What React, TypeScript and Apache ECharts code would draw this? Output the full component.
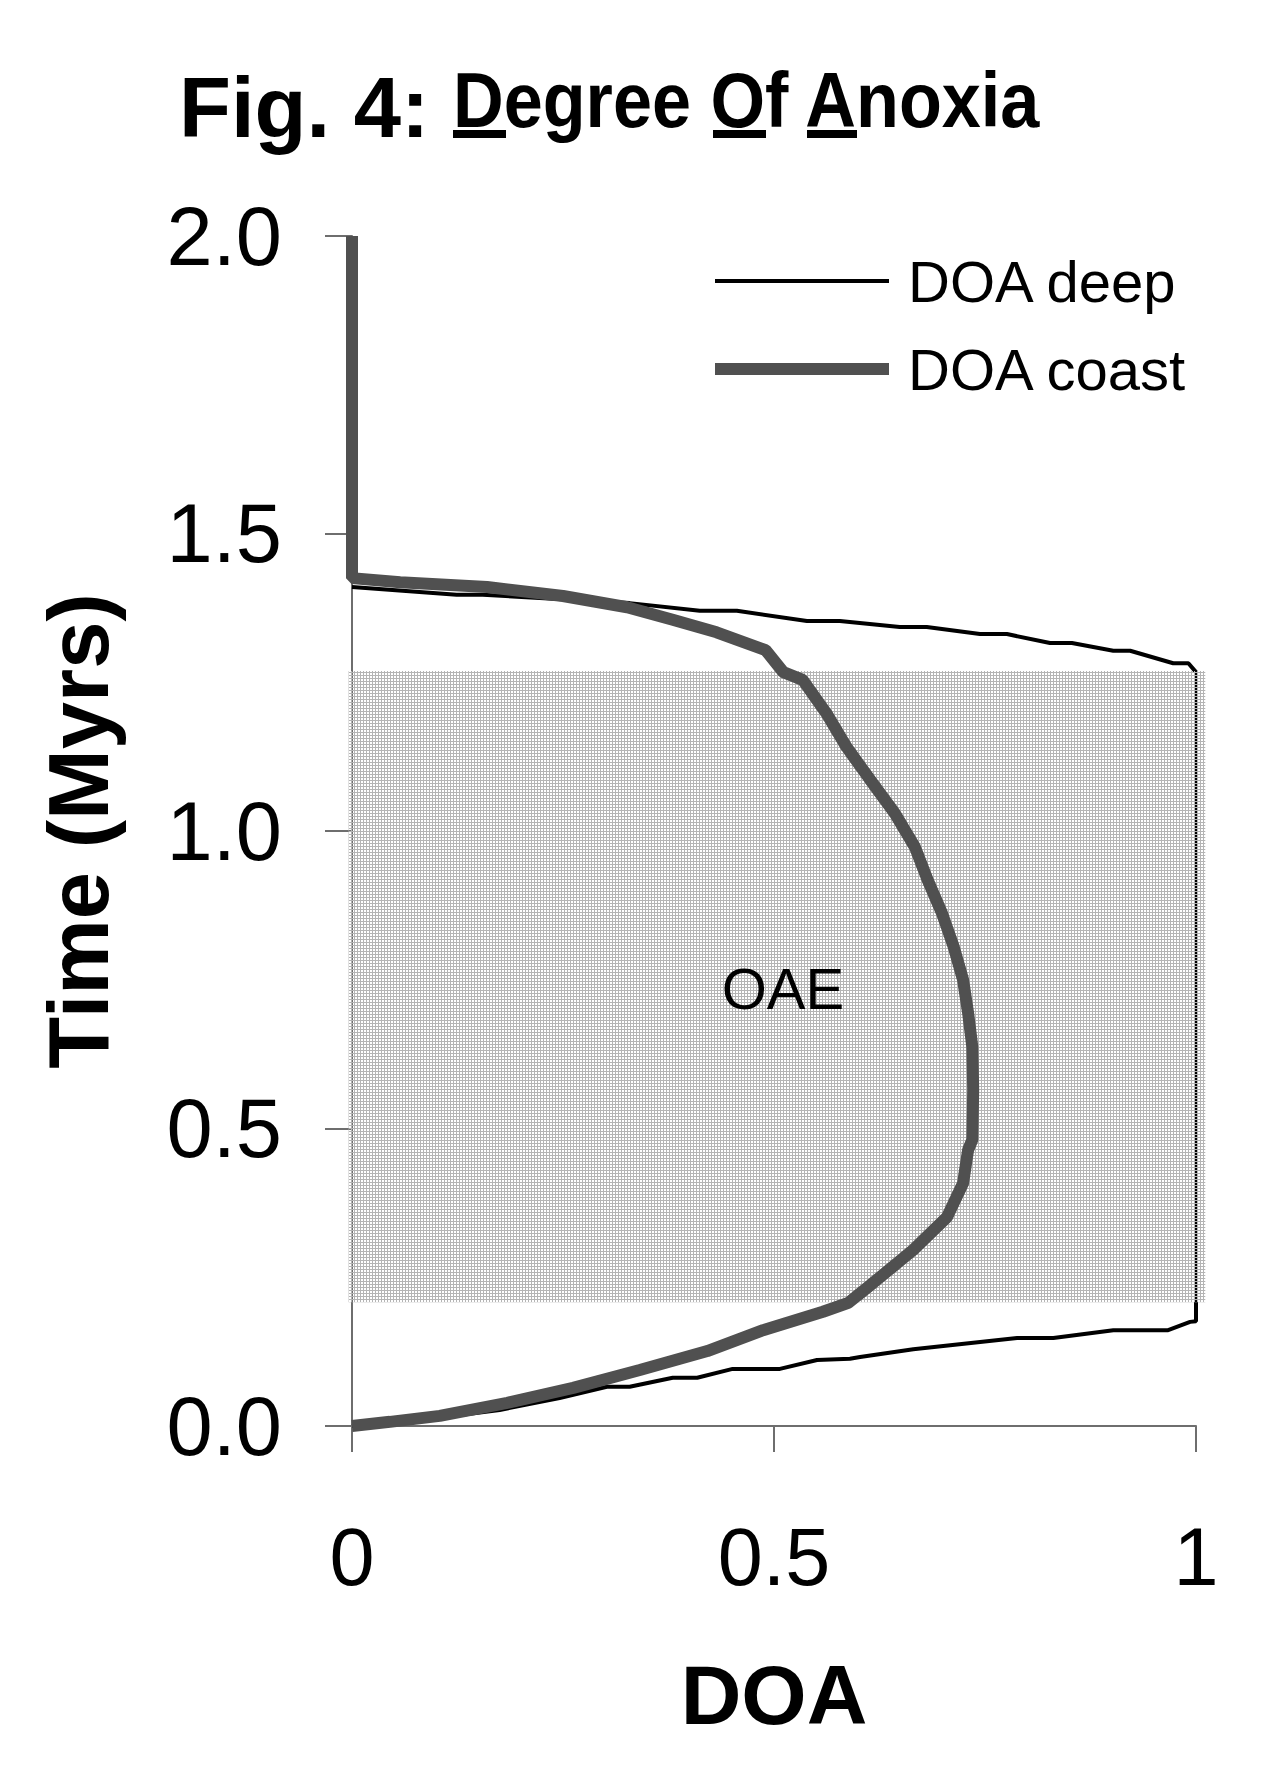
import React, { useEffect, useRef } from "react";
import * as echarts from "echarts";

// ---- data ----
const xTickValues = [0, 0.5, 1];
const yTickValues = [0, 0.5, 1.0, 1.5, 2.0];

// DOA deep (time ordered)
const deepDOA = [
  0, 0.081, 0.175, 0.246, 0.302, 0.329, 0.38, 0.409, 0.451, 0.507, 0.551, 0.59, 0.602, 0.665, 0.788,
  0.831, 0.902, 0.967, 0.993, 1.0, 1.0, 0.991, 0.973, 0.922, 0.902, 0.853, 0.827, 0.776, 0.744, 0.681,
  0.649, 0.578, 0.539, 0.456, 0.412, 0.329, 0.155, 0.124, 0,
];
const deepTime = [
  0, 0.01, 0.027, 0.047, 0.066, 0.066, 0.081, 0.081, 0.096, 0.096, 0.111, 0.113, 0.116, 0.129, 0.148,
  0.148, 0.161, 0.161, 0.175, 0.176, 1.267, 1.282, 1.282, 1.303, 1.303, 1.316, 1.316, 1.331, 1.331, 1.343,
  1.343, 1.353, 1.353, 1.37, 1.37, 1.383, 1.397, 1.397, 1.41,
];

// DOA coast (time ordered)
const coastDOA = [
  0, 0.045, 0.104, 0.184, 0.262, 0.341, 0.421, 0.487, 0.558, 0.588, 0.617, 0.665, 0.705, 0.724, 0.73,
  0.735, 0.736, 0.735, 0.73, 0.724, 0.713, 0.699, 0.682, 0.667, 0.643, 0.614, 0.586, 0.562, 0.534, 0.511,
  0.49, 0.432, 0.38, 0.326, 0.25, 0.16, 0.057, 0, 0,
];
const coastTime = [
  0, 0.007, 0.017, 0.039, 0.064, 0.094, 0.126, 0.161, 0.192, 0.207, 0.24, 0.296, 0.351, 0.408, 0.464,
  0.481, 0.565, 0.637, 0.694, 0.75, 0.805, 0.862, 0.918, 0.973, 1.03, 1.086, 1.141, 1.198, 1.254, 1.267,
  1.304, 1.334, 1.355, 1.376, 1.395, 1.41, 1.418, 1.425, 2.0,
];

// OAE shaded interval
const oaeDOA = [-0.004, 1.011];
const oaeTime = [0.208, 1.269];

const FONT = "'Liberation Sans', Arial, Helvetica, sans-serif";

// legend icons: full 174x14 box, with a bar of the series' thickness in the middle
const DEEP_ICON = "path://M0,0L0,0M0,5L174,5L174,9L0,9ZM174,14L174,14";
const COAST_ICON = "path://M0,0L0,0M0,1L174,1L174,13L0,13ZM174,14L174,14";

export default function App() {
  const ref = useRef<HTMLDivElement>(null);

  useEffect(() => {
    if (!ref.current) return;
    const chart = echarts.init(ref.current, undefined, { renderer: "svg" });

    // fine grid texture for the OAE box (transparent gaps)
    const cv = document.createElement("canvas");
    cv.width = 3;
    cv.height = 3;
    const ctx = cv.getContext("2d")!;
    ctx.fillStyle = "#b4b4b4";
    ctx.fillRect(0, 0, 3, 1);
    ctx.fillRect(0, 0, 1, 3);
    const pattern = { image: cv, repeat: "repeat" };

    const axisLineStyle = { color: "#6e6e6e", width: 2 };
    const coastColor = "#505050";

    chart.setOption({
      animation: false,
      backgroundColor: "#ffffff",
      grid: { left: 352, right: 77, top: 236, bottom: 362, containLabel: false },
      legend: {
        data: [
          { name: "DOA deep", icon: DEEP_ICON, itemStyle: { color: "#000" } },
          { name: "DOA coast", icon: COAST_ICON, itemStyle: { color: coastColor } },
        ],
        orient: "vertical",
        left: 710,
        top: 247,
        itemWidth: 174,
        itemHeight: 14,
        itemGap: 30,
        textStyle: {
          fontSize: 58,
          fontFamily: FONT,
          color: "#000",
          lineHeight: 56,
          padding: [0, 0, 0, 14],
        },
      },
      xAxis: {
        type: "value",
        min: xTickValues[0],
        max: xTickValues[xTickValues.length - 1],
        interval: 0.5,
        splitLine: { show: false },
        axisLine: { show: true, onZero: false, lineStyle: axisLineStyle },
        axisTick: { show: true, inside: false, length: 26, lineStyle: axisLineStyle },
        axisLabel: {
          fontSize: 81,
          fontFamily: FONT,
          color: "#000",
          margin: 90,
          formatter: (v: number) => String(v),
        },
        name: "DOA",
        nameLocation: "middle",
        nameGap: 227,
        nameTextStyle: { fontSize: 84, fontWeight: "bold", fontFamily: FONT, color: "#000" },
      },
      yAxis: {
        type: "value",
        min: yTickValues[0],
        max: yTickValues[yTickValues.length - 1],
        interval: 0.5,
        splitLine: { show: false },
        axisLine: { show: true, onZero: false, lineStyle: axisLineStyle },
        axisTick: { show: true, inside: false, length: 27, lineStyle: axisLineStyle },
        axisLabel: {
          fontSize: 83,
          fontFamily: FONT,
          color: "#000",
          margin: 70,
          formatter: (v: number) => v.toFixed(1),
        },
        name: "Time (Myrs)",
        nameLocation: "middle",
        nameRotate: 90,
        nameGap: 231,
        nameTextStyle: { fontSize: 85, fontWeight: "bold", fontFamily: FONT, color: "#000" },
      },
      graphic: [
        {
          type: "text",
          x: 179,
          y: 107,
          style: { text: "Fig. 4:", font: `bold 85px ${FONT}`, fill: "#000", verticalAlign: "middle" },
        },
        {
          type: "text",
          x: 453,
          y: 100,
          scaleX: 0.9,
          style: {
            text: "Degree Of Anoxia",
            font: `bold 78px ${FONT}`,
            fill: "#000",
            verticalAlign: "middle",
          },
        },
        { type: "rect", shape: { x: 453, y: 130, width: 53, height: 8 }, style: { fill: "#000" } },
        { type: "rect", shape: { x: 713, y: 130, width: 53, height: 8 }, style: { fill: "#000" } },
        { type: "rect", shape: { x: 807, y: 130, width: 50, height: 8 }, style: { fill: "#000" } },
      ],
      series: [
        {
          name: "DOA deep",
          type: "line",
          z: 2,
          symbol: "none",
          lineStyle: { color: "#000", width: 4 },
          itemStyle: { color: "#000" },
          data: deepDOA.map((x, i) => [x, deepTime[i]]),
        },
        {
          name: "OAE",
          type: "custom",
          z: 3,
          silent: true,
          clip: false,
          data: [[oaeDOA[0], oaeTime[1], oaeDOA[1], oaeTime[0]]],
          renderItem: (params: any, api: any) => {
            const p0 = api.coord([api.value(0), api.value(1)]);
            const p1 = api.coord([api.value(2), api.value(3)]);
            return {
              type: "rect",
              shape: { x: p0[0], y: p0[1], width: p1[0] - p0[0], height: p1[1] - p0[1] },
              style: { fill: pattern },
              textContent: {
                style: { text: "OAE", font: `58px ${FONT}`, fill: "#000" },
              },
              textConfig: { position: "inside", offset: [6, 2] },
            };
          },
        },
        {
          name: "DOA coast",
          type: "line",
          z: 4,
          symbol: "none",
          lineStyle: { color: coastColor, width: 12 },
          itemStyle: { color: coastColor },
          data: coastDOA.map((x, i) => [x, coastTime[i]]),
        },
      ],
    });

    return () => chart.dispose();
  }, []);

  return (
    <div
      ref={ref}
      style={{ position: "absolute", left: 0, top: 0, width: 1273, height: 1788 }}
    />
  );
}
